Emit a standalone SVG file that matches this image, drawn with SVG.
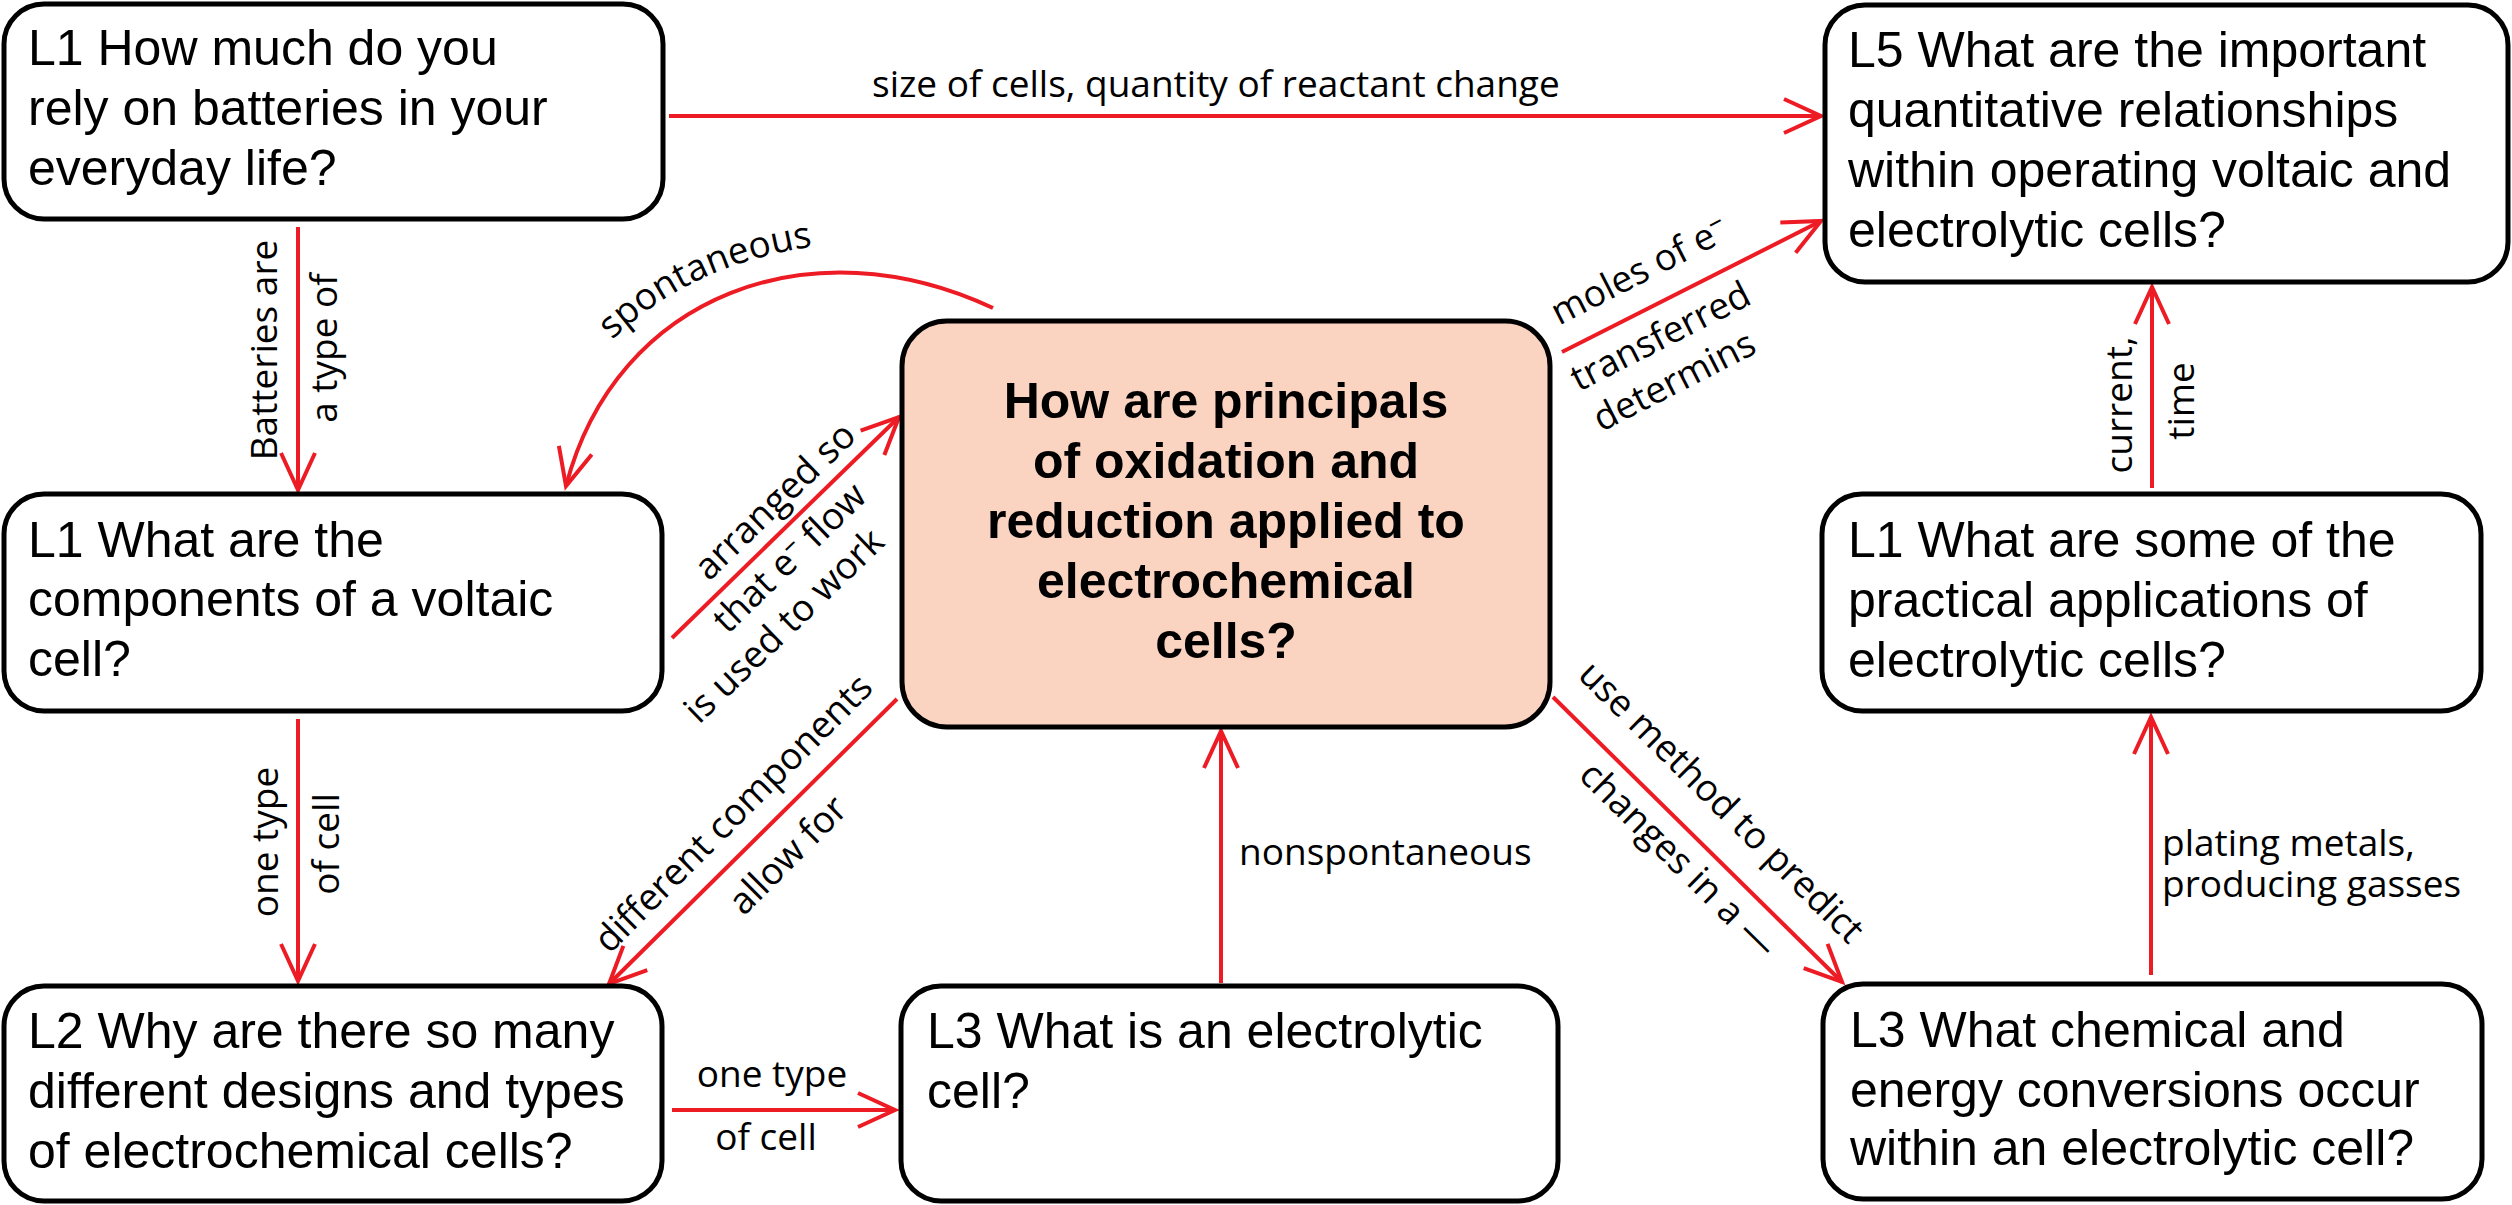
<svg xmlns="http://www.w3.org/2000/svg" width="2512" height="1205" viewBox="0 0 2512 1205">
<style>
.box{fill:#fff;stroke:#000;stroke-width:5}
.hub{fill:#FBD3C1;stroke:#000;stroke-width:5}
.nt{font-family:"Liberation Sans",Arial,sans-serif;font-size:50px;fill:#000}
.hb{font-family:"Liberation Sans",Arial,sans-serif;font-size:50px;font-weight:bold;fill:#000;text-anchor:middle}
.lb{font-family:"Open Sans",sans-serif;font-size:37px;fill:#000}
.mid{text-anchor:middle}
.cn{fill:none;stroke:#ED1C24;stroke-width:4}
</style>
<defs>
<marker id="ah" markerUnits="userSpaceOnUse" markerWidth="60" markerHeight="60" viewBox="-50 -30 60 60" refX="0" refY="0" orient="auto" overflow="visible">
<path d="M-37,-17 L0,0 L-37,17" fill="none" stroke="#ED1C24" stroke-width="4"/>
</marker>
<path id="spPath" d="M612,340 Q700,255 845,243"/>
</defs>
<rect width="2512" height="1205" fill="#fff"/>

<g id="connectors">
<line class="cn" x1="669" y1="116" x2="1821" y2="116" marker-end="url(#ah)"/>
<line class="cn" x1="298" y1="227" x2="298" y2="490" marker-end="url(#ah)"/>
<path class="cn" d="M993,308 C812,223 616,294 566,486" marker-end="url(#ah)"/>
<line class="cn" x1="672" y1="638" x2="899" y2="417" marker-end="url(#ah)"/>
<line class="cn" x1="298" y1="719" x2="298" y2="981" marker-end="url(#ah)"/>
<line class="cn" x1="897" y1="699" x2="609" y2="984" marker-end="url(#ah)"/>
<line class="cn" x1="672" y1="1110" x2="895" y2="1110" marker-end="url(#ah)"/>
<line class="cn" x1="1221" y1="983" x2="1221" y2="731" marker-end="url(#ah)"/>
<line class="cn" x1="1562" y1="352" x2="1821" y2="221" marker-end="url(#ah)"/>
<line class="cn" x1="1553" y1="697" x2="1842" y2="982" marker-end="url(#ah)"/>
<line class="cn" x1="2151" y1="975" x2="2151" y2="717" marker-end="url(#ah)"/>
<line class="cn" x1="2152" y1="488" x2="2152" y2="287" marker-end="url(#ah)"/>

<text class="lb" x="872" y="97">size of cells, quantity of reactant change</text>
<text class="lb mid" transform="translate(277,350) rotate(-90)">Batteries are</text>
<text class="lb mid" transform="translate(337,348) rotate(-90)">a type of</text>
<text class="lb"><textPath href="#spPath">spontaneous</textPath></text>
<g transform="translate(786,527) rotate(-44)">
<text class="lb mid" x="10" y="-14">arranged so</text>
<text class="lb mid" x="-19" y="37">that e<tspan dy="-13" font-size="28">–</tspan><tspan dy="13"> flow</tspan></text>
<text class="lb mid" x="-70" y="82">is used to work</text>
</g>
<text class="lb mid" transform="translate(278,842) rotate(-90)">one type</text>
<text class="lb mid" transform="translate(339,844) rotate(-90)">of cell</text>
<g transform="translate(752,842) rotate(-45)">
<text class="lb mid" x="7" y="-21">different components</text>
<text class="lb mid" x="16" y="47">allow for</text>
</g>
<text class="lb mid" x="772" y="1087">one type</text>
<text class="lb mid" x="766" y="1150">of cell</text>
<text class="lb" x="1239" y="865">nonspontaneous</text>
<g transform="translate(1692,286) rotate(-27)">
<text class="lb mid" x="-40" y="-25">moles of e<tspan dy="-13" font-size="28">–</tspan></text>
<text class="lb mid" x="-51" y="43">transferred</text>
<text class="lb mid" x="-59" y="89">determins</text>
</g>
<g transform="translate(1698,840) rotate(44.6)">
<text class="lb mid" x="-10" y="-31">use method to predict</text>
<text class="lb mid" x="0" y="40">changes in a —</text>
</g>
<text class="lb mid" transform="translate(2132,405) rotate(-90)">current,</text>
<text class="lb mid" transform="translate(2194,401) rotate(-90)">time</text>
<text class="lb" x="2162" y="856">plating metals,</text>
<text class="lb" x="2162" y="897">producing gasses</text>
</g>

<g id="n-batteries">
<rect class="box" x="4" y="4" width="659" height="215" rx="40"/>
<text class="nt" x="28" y="65">L1 How much do you</text>
<text class="nt" x="28" y="125">rely on batteries in your</text>
<text class="nt" x="28" y="185">everyday life?</text>
</g>
<g id="n-quantitative">
<rect class="box" x="1825" y="5" width="683" height="277" rx="40"/>
<text class="nt" x="1848" y="67">L5 What are the important</text>
<text class="nt" x="1848" y="127">quantitative relationships</text>
<text class="nt" x="1848" y="187">within operating voltaic and</text>
<text class="nt" x="1848" y="247">electrolytic cells?</text>
</g>
<g id="n-components">
<rect class="box" x="4" y="494" width="658" height="217" rx="40"/>
<text class="nt" x="28" y="557">L1 What are the</text>
<text class="nt" x="28" y="616">components of a voltaic</text>
<text class="nt" x="28" y="676">cell?</text>
</g>
<g id="n-hub">
<rect class="hub" x="902" y="321" width="648" height="406" rx="45"/>
<text class="hb" x="1226" y="418">How are principals</text>
<text class="hb" x="1226" y="478">of oxidation and</text>
<text class="hb" x="1226" y="538">reduction applied to</text>
<text class="hb" x="1226" y="598">electrochemical</text>
<text class="hb" x="1226" y="658">cells?</text>
</g>
<g id="n-applications">
<rect class="box" x="1822" y="494" width="659" height="217" rx="40"/>
<text class="nt" x="1848" y="557">L1 What are some of the</text>
<text class="nt" x="1848" y="617">practical applications of</text>
<text class="nt" x="1848" y="677">electrolytic cells?</text>
</g>
<g id="n-designs">
<rect class="box" x="4" y="986" width="658" height="215" rx="40"/>
<text class="nt" x="28" y="1048">L2 Why are there so many</text>
<text class="nt" x="28" y="1108">different designs and types</text>
<text class="nt" x="28" y="1168">of electrochemical cells?</text>
</g>
<g id="n-electrolytic">
<rect class="box" x="901" y="986" width="657" height="215" rx="40"/>
<text class="nt" x="927" y="1048">L3 What is an electrolytic</text>
<text class="nt" x="927" y="1108">cell?</text>
</g>
<g id="n-conversions">
<rect class="box" x="1823" y="984" width="659" height="215" rx="40"/>
<text class="nt" x="1850" y="1047">L3 What chemical and</text>
<text class="nt" x="1850" y="1107">energy conversions occur</text>
<text class="nt" x="1850" y="1165">within an electrolytic cell?</text>
</g>
</svg>
